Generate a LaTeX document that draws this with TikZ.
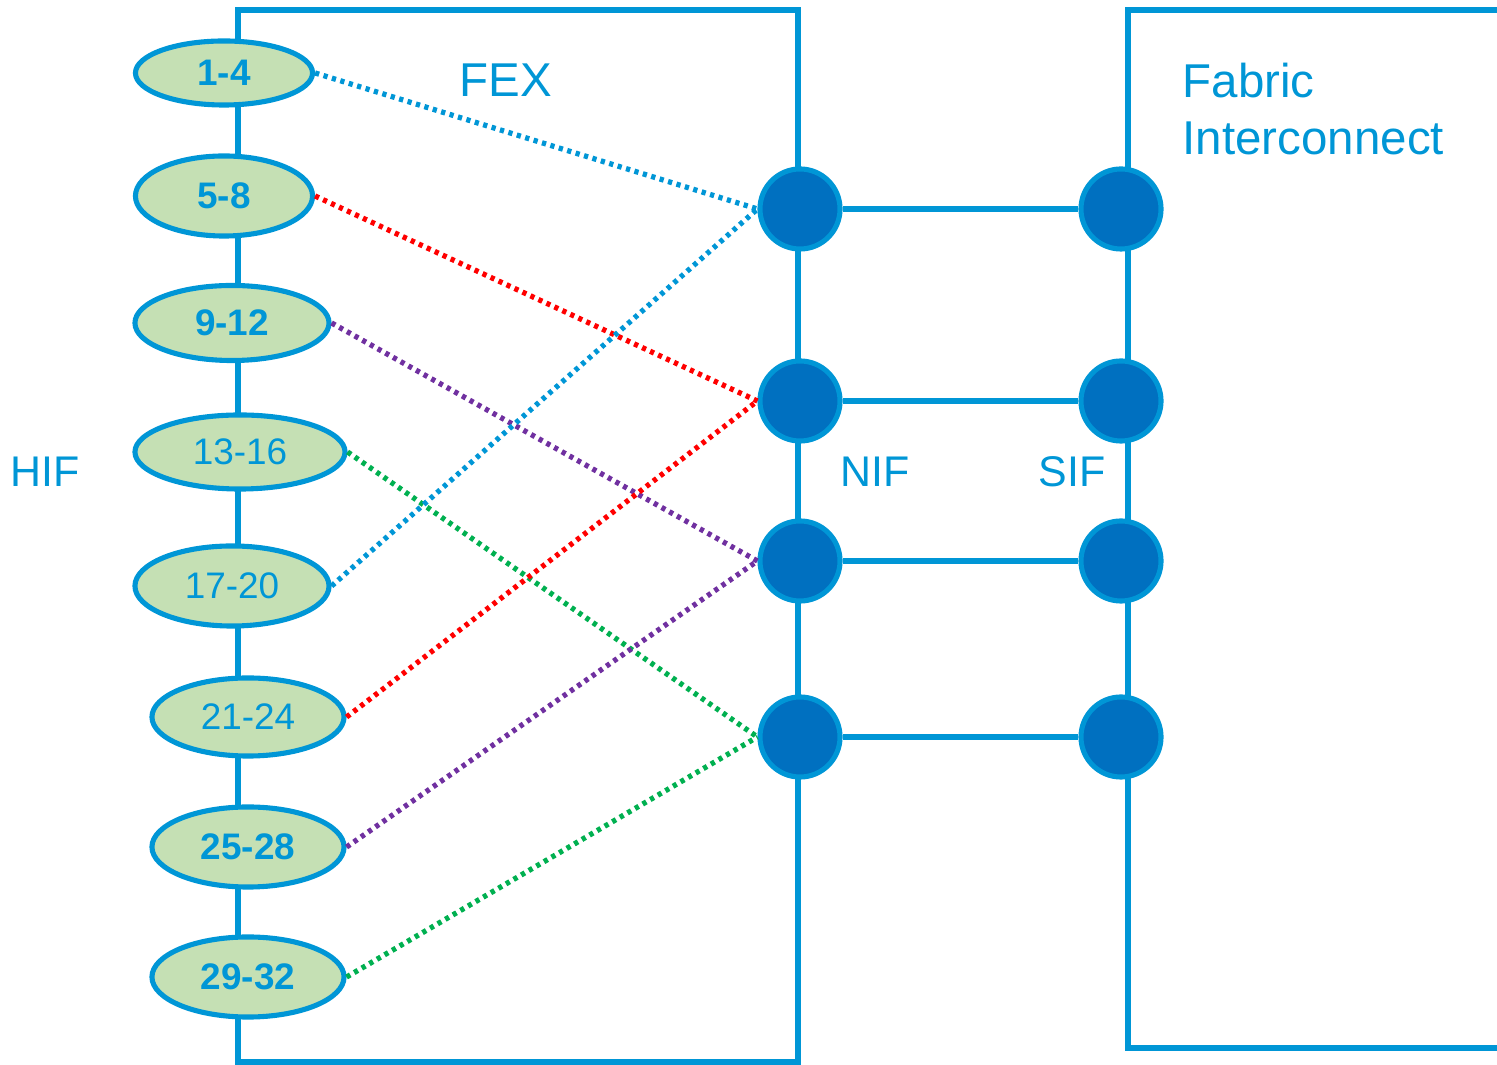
\documentclass[tikz,border=0pt]{standalone}
\usepackage{fontspec}
\setmainfont{Liberation Sans}
\usetikzlibrary{shapes.geometric}
\definecolor{ciscoblue}{RGB}{0,150,214}
\definecolor{portblue}{RGB}{0,112,192}
\definecolor{hifgreen}{RGB}{197,224,180}
\definecolor{linkred}{RGB}{255,0,0}
\definecolor{linkpurple}{RGB}{112,48,160}
\definecolor{linkgreen}{RGB}{0,176,80}
\tikzstyle{fexbox} = [draw=ciscoblue, line width=1.45pt]
\tikzstyle{hif} = [draw=ciscoblue, fill=hifgreen, ellipse, line width=1.45pt, inner sep=0pt, text=ciscoblue, font=\fontsize{10.5}{12}\selectfont]
\tikzstyle{port} = [draw=ciscoblue, fill=portblue, circle, line width=1.45pt, minimum size=0.8cm]
\tikzstyle{wire} = [draw=ciscoblue, line width=1.45pt]
\tikzstyle{link} = [line width=1.5pt, dash pattern=on 1.2pt off 1.3pt]
\tikzstyle{tag} = [text=ciscoblue, inner sep=0pt, font=\fontsize{13.5}{16.3}\selectfont]
\tikzstyle{iftag} = [text=ciscoblue, inner sep=0pt, font=\fontsize{12.2}{14}\selectfont]

\begin{document}
\begin{tikzpicture}[x=0.01cm, y=-0.01cm]
	\clip (0,0) rectangle (1497,1065);
	% FEX and fabric interconnect frames
	\draw[fexbox] (238,10) rectangle (798,1062);
	\draw[fexbox] (1510,10) -- (1128,10) -- (1128,1048) -- (1510,1048);

	\node[tag] (fex) at (506,80) {FEX};
	\node[tag, anchor=north west, align=left] (fi) at (1182,62) {Fabric\\Interconnect};
	\node[iftag] (hiftag) at (45,472) {HIF};
	\node[iftag] (niftag) at (875,472) {NIF};
	\node[iftag] (siftag) at (1072,472) {SIF};

	% host interfaces
	\node[hif, minimum width=1.77cm, minimum height=0.64cm](h1) at (224,73){\textbf{1-4}};
	\node[hif, minimum width=1.77cm, minimum height=0.8cm](h2) at (224,196){\textbf{5-8}};
	\node[hif, minimum width=1.94cm, minimum height=0.75cm](h3) at (232,323){\textbf{9-12}};
	\node[hif, minimum width=2.1cm, minimum height=0.74cm](h4) at (240,452){13-16};
	\node[hif, minimum width=1.94cm, minimum height=0.8cm](h5) at (232,586){17-20};
	\node[hif, minimum width=1.92cm, minimum height=0.78cm](h6) at (248,717){21-24};
	\node[hif, minimum width=1.92cm, minimum height=0.8cm](h7) at (248,847){\textbf{25-28}};
	\node[hif, minimum width=1.92cm, minimum height=0.8cm](h8) at (248,977){\textbf{29-32}};

	% network and server ports
	\node[port](n1) at (800,209){};
	\node[port](n2) at (800,401){};
	\node[port](n3) at (800,561){};
	\node[port](n4) at (800,737){};
	\node[port](s1) at (1121,209){};
	\node[port](s2) at (1121,401){};
	\node[port](s3) at (1121,561){};
	\node[port](s4) at (1121,737){};
	\draw[wire](n1) -- (s1);
	\draw[wire](n2) -- (s2);
	\draw[wire](n3) -- (s3);
	\draw[wire](n4) -- (s4);

	% pinning of host ports to uplinks
	\draw[link, ciscoblue](h1.east) -- (n1.west);
	\draw[link, linkred](h2.east) -- (n2.west);
	\draw[link, linkpurple](h3.east) -- (n3.west);
	\draw[link, linkgreen](h4.east) -- (n4.west);
	\draw[link, ciscoblue](h5.east) -- (n1.west);
	\draw[link, linkred](h6.east) -- (n2.west);
	\draw[link, linkpurple](h7.east) -- (n3.west);
	\draw[link, linkgreen](h8.east) -- (n4.west);
\end{tikzpicture}
\end{document}
